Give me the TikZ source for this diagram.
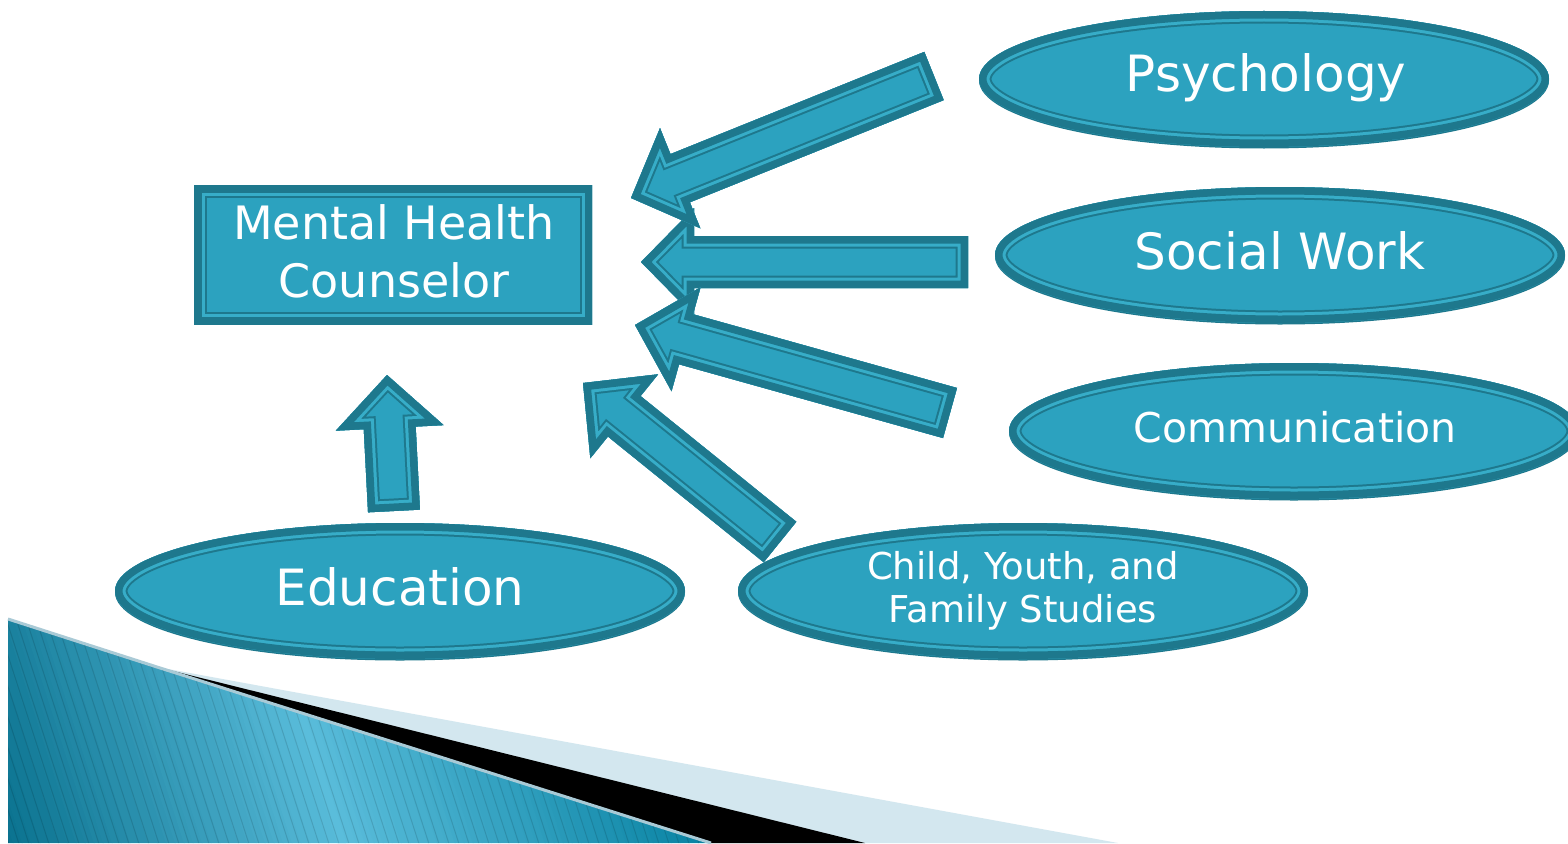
\documentclass[tikz,border=0pt]{standalone}
\usepackage{fontspec}
\setmainfont{DejaVu Sans}
\usetikzlibrary{calc}
\definecolor{mainc}{HTML}{2CA2BF}
\definecolor{darkc}{HTML}{1E788D}
\definecolor{ringc}{HTML}{37ADC8}
\definecolor{blueA}{HTML}{066E8B}
\definecolor{blueB}{HTML}{5ABDDB}
\definecolor{blueC}{HTML}{0A84A4}
\definecolor{paleC}{HTML}{D3E7EF}
\definecolor{edgeC}{HTML}{A9CAD6}
\newcommand\fancyshape[1]{%
  \fill[mainc] #1;
  \begin{scope}
    \clip #1;
    \draw[darkc, line width=25pt] #1;
    \draw[ringc, line width=21pt] #1;
    \draw[darkc, line width=15pt] #1;
  \end{scope}}
\newcommand\blockarrow[2]{%
  \coordinate (bN) at ($(#2)!53pt!(#1)$);
  \coordinate (b1) at ($(#1)!26pt!90:(#2)$);
  \coordinate (b2) at ($(bN)!26pt!90:(#2)$);
  \coordinate (b3) at ($(bN)!54pt!90:(#2)$);
  \coordinate (b5) at ($(bN)!54pt!-90:(#2)$);
  \coordinate (b6) at ($(bN)!26pt!-90:(#2)$);
  \coordinate (b7) at ($(#1)!26pt!-90:(#2)$);
  \fancyshape{(b1)--(b2)--(b3)--(#2)--(b5)--(b6)--(b7)--cycle}}
\newcommand\ellshape[1]{%
  \fill[darkc] ($(#1)+(0,1.5)$) ellipse [x radius=285pt, y radius=68pt];
  \fancyshape{(#1) ellipse [x radius=285pt, y radius=68pt]}}
\newcommand\twolines[2]{\begin{tabular}[t]{@{}c@{}}#1\\#2\end{tabular}}
\tikzset{lbl/.style={text=white, inner sep=0pt, anchor=base}}
\begin{document}
\begin{tikzpicture}[x=1pt, y=-1pt]
\path[use as bounding box] (0,0) rectangle (1568,843);
\clip (0,0) rectangle (1568,843);
\fill[white] (0,0) rectangle (1568,843);

% bottom-left decoration
\fill[paleC] (157,667) -- (1118,843) -- (711,843) -- cycle;
\fill[black] (157,667) -- (865,843) -- (711,843) -- cycle;
\begin{scope}
  \clip (8,619) -- (157,667) -- (711,843) -- (8,843) -- cycle;
  \fill[blueA] (-300,600) -- (-92,600) -- (-12,850) -- (-300,850) -- cycle;
  \fill[blueC] (620,600) -- (900,600) -- (900,850) -- (700,850) -- cycle;
  \foreach \i in {0,...,39} {
    \pgfmathtruncatemacro\p{2.5*\i}
    \fill[blueB!\p!blueA] (8+9*\i-100,600) -- ++(9.6,0) -- ++(80,250) -- ++(-9.6,0) -- cycle;
  }
  \foreach \i in {0,...,39} {
    \pgfmathtruncatemacro\p{100-2.5*\i}
    \fill[blueB!\p!blueC] (260+9*\i,600) -- ++(9.6,0) -- ++(80,250) -- ++(-9.6,0) -- cycle;
  }
  \foreach \i in {-300,-290,...,760} \draw[black, opacity=0.12, line width=1pt] (\i,600) -- ++(80,247);
\end{scope}
\draw[edgeC, line width=3pt] (8,619) -- (157,667) -- (711,843);

% arrows
\coordinate (a2t) at (968,262); \coordinate (a2h) at (641,262);
\coordinate (a1t) at (934,76);  \coordinate (a1h) at (631,198);
\coordinate (a3t) at (950,413); \coordinate (a3h) at (635,325);
\coordinate (a4t) at (780,542); \coordinate (a4h) at (583,383);
\coordinate (a5t) at (394,511); \coordinate (a5h) at (387,375);
\blockarrow{a2t}{a2h}
\blockarrow{a1t}{a1h}
\blockarrow{a3t}{a3h}
\blockarrow{a4t}{a4h}
\blockarrow{a5t}{a5h}

% shapes
\coordinate (cPsy) at (1264,79);
\coordinate (cSW) at (1280,255);
\coordinate (cCom) at (1294,431);
\coordinate (cCYF) at (1023,591);
\coordinate (cEdu) at (400,591);
\coordinate (rA) at (194,185); \coordinate (rB) at (592,324);
\ellshape{cPsy}
\ellshape{cSW}
\ellshape{cCom}
\ellshape{cCYF}
\ellshape{cEdu}
\fancyshape{(rA) rectangle (rB)}

% labels
\node[lbl, font=\fontsize{50}{60}\selectfont] (psy) at (1266,92) {Psychology};
\node[lbl, font=\fontsize{50}{60}\selectfont] (sw) at (1280,269) {Social Work};
\node[lbl, font=\fontsize{41}{48}\selectfont] (com) at (1295,442) {Communication};
\node[lbl, font=\fontsize{37}{43}\selectfont] (cyf) at (1023,579) {\twolines{Child, Youth, and}{Family Studies}};
\node[lbl, font=\fontsize{50}{60}\selectfont] (edu) at (400,605) {Education};
\node[lbl, font=\fontsize{46}{58}\selectfont] (mhc) at (394,239) {\twolines{Mental Health}{Counselor}};
\end{tikzpicture}
\end{document}
